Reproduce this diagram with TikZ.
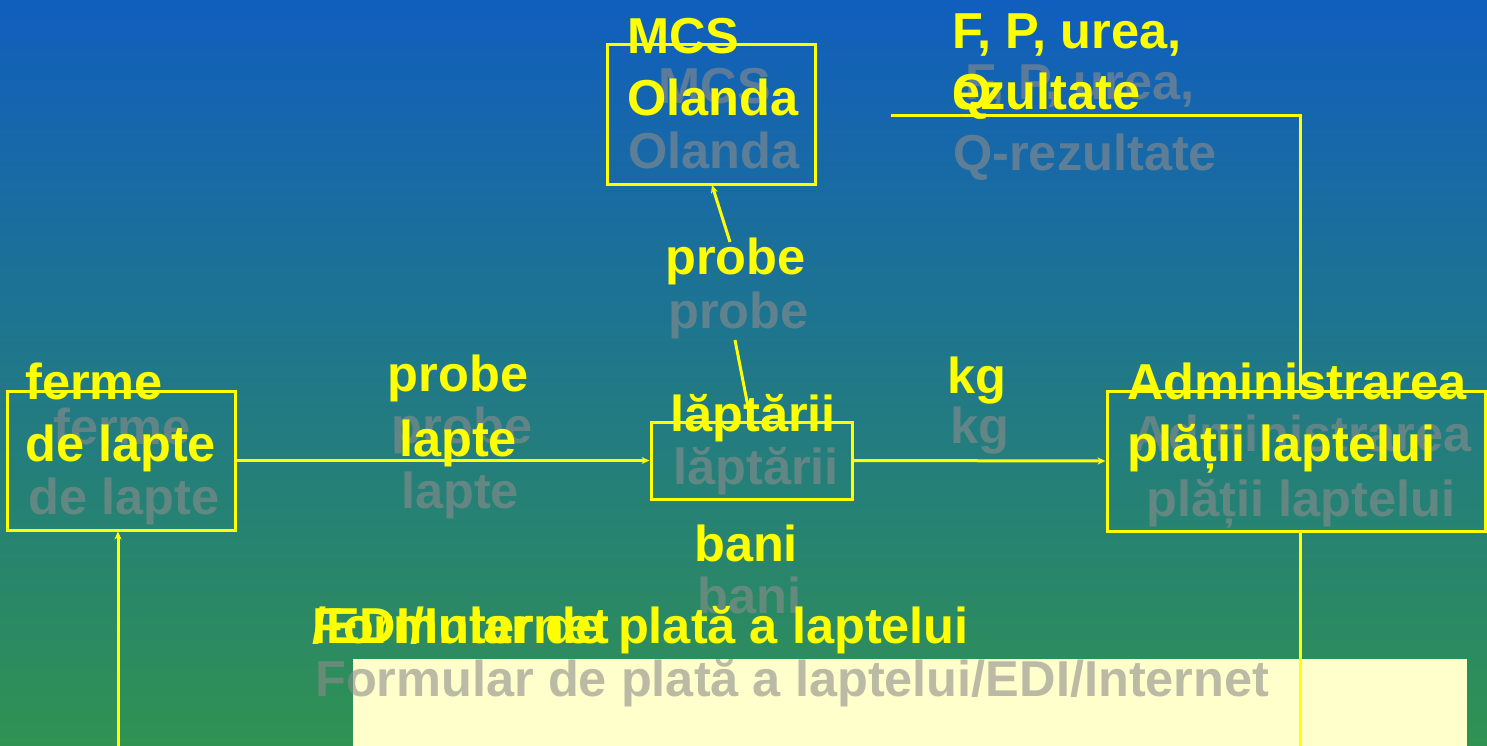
\documentclass[tikz,border=0pt]{standalone}
\usepackage{fontspec}
\setmainfont{Liberation Sans}
\usetikzlibrary{arrows.meta}
\definecolor{bgtop}{RGB}{16,94,190}
\definecolor{bgmid}{RGB}{34,120,150}
\definecolor{bgbot}{RGB}{48,146,82}
\definecolor{ylw}{RGB}{255,255,0}
\definecolor{paleylw}{RGB}{255,255,204}
\definecolor{shadowgray}{RGB}{140,140,140}
\tikzset{
  lbl/.style={inner sep=0pt, text=ylw, font=\fontsize{50.5}{60}\selectfont\bfseries},
  shd/.style={inner sep=0pt, text=shadowgray, text opacity=0.6, font=\fontsize{50.5}{60}\selectfont\bfseries},
  box/.style={draw=ylw, line width=3pt, inner sep=0pt},
  conn/.style={draw=ylw, line width=3pt},
  arr/.style={conn, -{Stealth[length=8pt,width=7pt]}}
}
\begin{document}
\begin{tikzpicture}[x=1pt,y=-1pt]
\useasboundingbox (0,0) rectangle (1487,746);
\shade[top color=bgtop, middle color=bgmid, bottom color=bgbot] (0,0) rectangle (1487,746);
\fill[paleylw] (353,659) rectangle (1467,746);

% shadow texts
\node[shd, anchor=base] (smcs1) at (715,104) {MCS};
\node[shd, anchor=base] (smcs2) at (714,168) {Olanda};
\node[shd, anchor=base west] (sfp1) at (965,100) {F, P, urea,};
\node[shd, anchor=base west] (sfp2) at (953,171) {Q-rezultate};
\node[shd, anchor=base west] (sprobe) at (668,328) {probe};
\node[shd, anchor=base] (spl1) at (462,443) {probe};
\node[shd, anchor=base] (spl2) at (460,508) {lapte};
\node[shd, anchor=base] (sfe1) at (122,444) {ferme};
\node[shd, anchor=base] (sfe2) at (124,514) {de lapte};
\node[shd, anchor=base west] (skg) at (950,443) {kg};
\node[shd, anchor=base west] (slap) at (673,484) {lăptării};
\node[shd, anchor=base] (sad1) at (1302,451) {Administrarea};
\node[shd, anchor=base] (sad2) at (1301,516) {plății laptelui};
\node[shd, anchor=base west] (sbani) at (697,613) {bani};
\node[shd, anchor=base west] (sform) at (315,696) {Formular de plată a laptelui/EDI/Internet};

% boxes
\node[box, minimum width=208pt, minimum height=140pt] (mcs) at (711,115) {};
\node[box, minimum width=228pt, minimum height=139pt] (ferme) at (121,460.5) {};
\node[box, minimum width=201pt, minimum height=77pt] (lapt) at (751.5,460.5) {};
\node[box, minimum width=378pt, minimum height=140pt] (admin) at (1296,461) {};

% coordinates
\coordinate (l1) at (751,422);
\coordinate (p1) at (735,340);
\coordinate (p2) at (730,242);
\coordinate (m1) at (712,185);
\coordinate (a1) at (1300,391);
\coordinate (q) at (891,116);
\coordinate (a2) at (1300,746);
\coordinate (f1) at (118,746);

% connectors
\draw[arr] (ferme.east) -- (lapt.west);
\draw[arr] (lapt.east) -- (admin.west);
\draw[conn] (l1) -- (p1);
\draw[arr] (p2) -- (m1);
\draw[conn] (a1) |- (q);
\draw[conn] (admin.south -| a2) -- (a2);
\draw[arr] (f1) -- (ferme.south -| f1);

% yellow texts
\node[lbl, anchor=base west] (tmcs1) at (627,54) {MCS};
\node[lbl, anchor=base west] (tmcs2) at (627,116) {Olanda};
\node[lbl, anchor=base west] (tfp1) at (952,49) {F, P, urea,};
\node[lbl, anchor=base west] (tfp2a) at (952,110) {Q};
\node[lbl, anchor=base west] (tfp2b) at (952,110) {ezultate};
\node[lbl, anchor=base west] (tprobe) at (665,274) {probe};
\node[lbl, anchor=base] (tpl1) at (458,391) {probe};
\node[lbl, anchor=base] (tpl2) at (458,456) {lapte};
\node[lbl, anchor=base west] (tfe1) at (25,399) {ferme};
\node[lbl, anchor=base west] (tfe2) at (25,461) {de lapte};
\node[lbl, anchor=base west] (tkg) at (947,393) {kg};
\node[lbl, anchor=base west] (tlap) at (670,431) {lăptării};
\node[lbl, anchor=base west] (tad1) at (1127,399) {Administrarea};
\node[lbl, anchor=base west] (tad2) at (1127,461) {plății laptelui};
\node[lbl, anchor=base west] (tbani) at (694,561) {bani};
\node[lbl, anchor=base west] (tform) at (312,643) {Formular de plată a laptelui};
\node[lbl, anchor=base west] (tedi) at (312,643) {/EDI/Internet};
\end{tikzpicture}
\end{document}
